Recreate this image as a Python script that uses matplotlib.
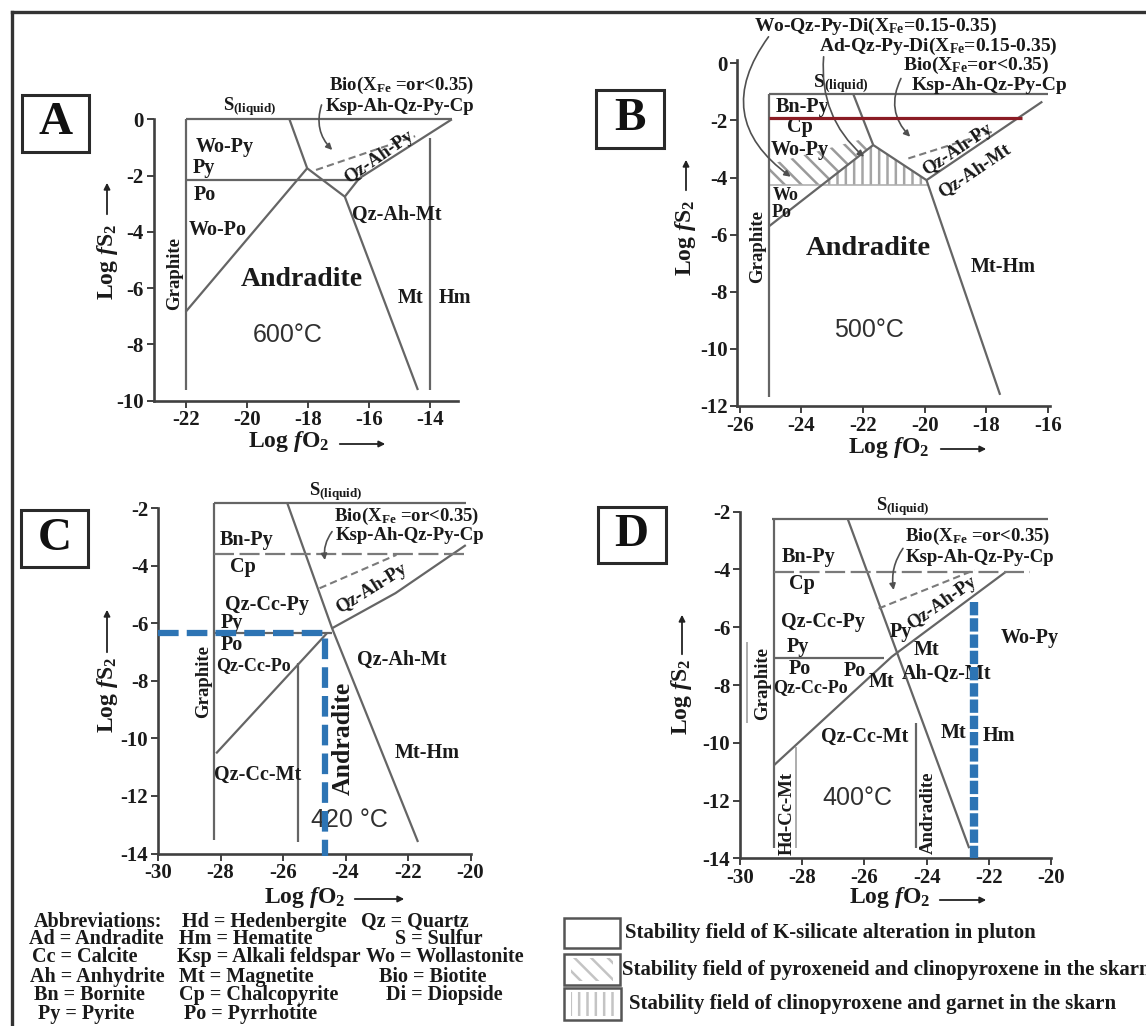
"""fS2 - fO2 stability diagrams of the skarn at 600, 500, 420 and 400 C."""

import matplotlib

matplotlib.use("Agg")
import matplotlib.pyplot as plt
from matplotlib.lines import Line2D
from matplotlib.patches import FancyArrowPatch, Polygon, Rectangle

W, H = 1146, 1026

# ---------------- panel A : 600 C ----------------
A_XTICKS = [-22, -20, -18, -16, -14]
A_YTICKS = [0, -2, -4, -6, -8, -10]
A_SOLID = [
    ([-22, -13.3], [0, 0]),
    ([-22, -22], [0, -9.62]),
    ([-22, -16.39], [-2.16, -2.16]),
    ([-22, -18.03], [-6.84, -1.74]),
    ([-18.61, -18.03, -16.8, -14.41], [0, -1.74, -2.75, -9.62]),
    ([-16.8, -16.33, -13.3], [-2.75, -2.1, 0]),
    ([-14.0, -14.0], [-0.68, -9.62]),
]
A_DASHED = [([-17.74, -14.5], [-1.8, -0.6])]
A_LABELS = [("Wo-Py", -20.71, -0.97), ("Py", -21.42, -1.74), ("Po", -21.36, -2.69),
            ("Wo-Po", -20.95, -3.93), ("Qz-Ah-Mt", -15.1, -3.4), ("Mt", -14.64, -6.36),
            ("Hm", -13.2, -6.36)]
A_NOTES = [("S$_{\\rm (liquid)}$", -19.9, 0.45), ("Bio(X$_{\\rm Fe}$ =or<0.35)", -14.93, 1.22),
           ("Ksp-Ah-Qz-Py-Cp", -14.99, 0.45)]
A_ROTATED = [("Graphite", -22.35, -5.47, 90), ("Qz-Ah-Py", -15.69, -1.33, 35)]
A_BIG = [("Andradite", -18.2, -5.71, 0)]
A_TEMP = [("600°C", -18.67, -7.67)]
A_ARROWS = [((-17.56, 0.51), (-17.21, -1.09), 0.3)]

# ---------------- panel B : 500 C ----------------
B_XTICKS = [-26, -24, -22, -20, -18, -16]
B_YTICKS = [0, -2, -4, -6, -8, -10, -12]
B_SOLID = [
    ([-25.07, -16.0], [-1.07, -1.07]),
    ([-25.07, -25.07], [-1.07, -11.67]),
    ([-25.07, -21.67], [-5.72, -2.86]),
    ([-22.32, -21.67, -19.94, -17.55], [-1.07, -2.86, -4.09, -11.61]),
    ([-19.94, -16.18], [-4.09, -1.34]),
]
B_RED = ([-25.07, -16.84], [-1.93, -1.93])
B_DASHED = [([-20.53, -17.79], [-3.33, -2.39])]
B_FAINT = [([-25.07, -19.89], [-4.26, -4.26])]
B_DIAG_FIELD = [(-25.07, -4.26), (-23.33, -4.26), (-21.67, -2.86), (-21.85, -2.6), (-25.07, -3.55)]
B_VERT_FIELD = [(-23.33, -4.26), (-21.67, -2.86), (-19.94, -4.09), (-19.89, -4.26)]
B_LABELS = [("Bn-Py", -23.97, -1.54), ("Cp", -24.05, -2.22), ("Wo-Py", -24.05, -3.03),
            ("Mt-Hm", -17.46, -7.12)]
B_SMALL = [("Wo", -24.5, -4.62), ("Po", -24.65, -5.22)]
B_NOTES = [("Wo-Qz-Py-Di(X$_{\\rm Fe}$=0.15-0.35)", -21.61, 1.28),
           ("Ad-Qz-Py-Di(X$_{\\rm Fe}$=0.15-0.35)", -19.56, 0.58),
           ("Bio(X$_{\\rm Fe}$=or<0.35)", -18.33, -0.06),
           ("S$_{\\rm (liquid)}$", -22.72, -0.7), ("Ksp-Ah-Qz-Py-Cp", -17.89, -0.76)]
B_ROTATED = [("Graphite", -25.43, -6.42, 90), ("Qz-Ah-Py", -18.92, -3.03, 34),
             ("Qz-Ah-Mt", -18.39, -3.74, 34)]
B_BIG = [("Andradite", -21.82, -6.48, 0)]
B_TEMP = [("500°C", -21.82, -9.34)]
B_ARROWS = [((-25.07, 0.93), (-24.35, -3.97), 0.5),
            ((-23.28, 0.23), (-21.97, -3.27), 0.25),
            ((-20.77, -0.53), (-20.47, -2.57), 0.35)]

# ---------------- panel C : 420 C ----------------
C_XTICKS = [-30, -28, -26, -24, -22, -20]
C_YTICKS = [-2, -4, -6, -8, -10, -12, -14]
C_SOLID = [
    ([-28.2, -20.15], [-1.83, -1.83]),
    ([-28.2, -28.2], [-1.83, -13.54]),
    ([-25.86, -24.43, -21.68], [-1.83, -6.17, -13.6]),
    ([-24.43, -22.4, -20.15], [-6.17, -4.95, -3.28]),
    ([-28.2, -24.43], [-6.35, -6.35]),
    ([-28.14, -24.6], [-10.52, -6.35]),
    ([-25.51, -25.51], [-7.39, -13.6]),
]
C_LONGDASH = [([-28.2, -20.15], [-3.6, -3.6])]
C_DASHED = [([-24.83, -22.37], [-4.78, -3.62])]
C_BLUE = ([-30, -24.66, -24.66], [-6.35, -6.35, -14.1])
C_LABELS = [("Bn-Py", -27.17, -3.1), ("Cp", -27.29, -4.03), ("Qz-Cc-Py", -26.51, -5.36),
            ("Py", -27.63, -6.0), ("Po", -27.63, -6.75), ("Qz-Ah-Mt", -22.2, -7.28),
            ("Mt-Hm", -21.4, -10.52), ("Qz-Cc-Mt", -26.81, -11.28)]
C_SMALL = [("Qz-Cc-Po", -26.94, -7.45)]
C_NOTES = [("S$_{\\rm (liquid)}$", -24.32, -1.42), ("Bio(X$_{\\rm Fe}$ =or<0.35)", -22.04, -2.29),
           ("Ksp-Ah-Qz-Py-Cp", -21.93, -2.93)]
C_ROTATED = [("Graphite", -28.54, -8.03, 90), ("Qz-Ah-Py", -23.17, -4.78, 32)]
C_BIG = [("Andradite", -24.08, -10.0, 90)]
C_TEMP = [("420 °C", -23.86, -12.84)]
C_ARROWS = [((-24.43, -2.81), (-24.66, -3.8), 0.2)]

# ---------------- panel D : 400 C ----------------
D_XTICKS = [-30, -28, -26, -24, -22, -20]
D_YTICKS = [-2, -4, -6, -8, -10, -12, -14]
D_SOLID = [
    ([-28.96, -20.1], [-2.27, -2.27]),
    ([-28.9, -28.9], [-2.27, -13.65]),
    ([-26.53, -22.63], [-2.27, -13.65]),
    ([-28.9, -25.12, -21.45], [-10.77, -7.02, -4.08]),
    ([-28.9, -25.36], [-7.08, -7.08]),
    ([-24.35, -24.35], [-9.33, -13.65]),
]
D_LONGDASH = [([-28.9, -20.68], [-4.08, -4.08])]
D_DASHED = [([-25.54, -22.46], [-5.35, -4.02])]
D_FAINT = [([-29.79, -29.79], [-6.5, -9.33]), ([-28.2, -28.2], [-10.13, -13.65])]
D_BLUE = ([-22.46, -22.46], [-5.12, -14.0])
D_LABELS = [("Bn-Py", -27.78, -3.58), ("Cp", -28.01, -4.5), ("Qz-Cc-Py", -27.33, -5.81),
            ("Py", -28.14, -6.7), ("Po", -28.08, -7.46), ("Po", -26.3, -7.5),
            ("Mt", -25.44, -7.88), ("Py", -24.83, -6.15), ("Mt", -24.0, -6.79),
            ("Ah-Qz-Mt", -23.35, -7.6), ("Wo-Py", -20.68, -6.38), ("Qz-Cc-Mt", -26.0, -9.79),
            ("Mt", -23.12, -9.67), ("Hm", -21.69, -9.77)]
D_SMALL = [("Qz-Cc-Po", -27.72, -8.09)]
D_NOTES = [("S$_{\\rm (liquid)}$", -24.76, -1.83), ("Bio(X$_{\\rm Fe}$ =or<0.35)", -22.35, -2.87),
           ("Ksp-Ah-Qz-Py-Cp", -22.28, -3.58)]
D_ROTATED = [("Graphite", -29.26, -7.94, 90), ("Qz-Ah-Py", -23.52, -5.17, 35),
             ("Hd-Cc-Mt", -28.49, -12.44, 90), ("Andradite", -23.93, -12.44, 90)]
D_TEMP = [("400°C", -26.24, -11.92)]
D_ARROWS = [((-24.76, -3.27), (-25.06, -4.71), 0.2)]

# ---------------- key ----------------
ABBR_COL1 = ["Abbreviations:", "Ad = Andradite", "Cc = Calcite", "Ah = Anhydrite",
             "Bn = Bornite", "Py = Pyrite"]
ABBR_COL2 = ["Hd = Hedenbergite", "Hm = Hematite", "Ksp = Alkali feldspar",
             "Mt = Magnetite", "Cp = Chalcopyrite", "Po = Pyrrhotite"]
ABBR_COL3 = ["Qz = Quartz", "S = Sulfur", "Wo = Wollastonite", "Bio = Biotite",
             "Di = Diopside"]
FIELD_KEYS = ["Stability field of K-silicate alteration in pluton",
              "Stability field of pyroxeneid and clinopyroxene in the skarn",
              "Stability field of clinopyroxene and garnet in the skarn"]

TXT = "#1a1a1a"
LINE = "#656565"
AXIS = "#404040"
BLUE = "#2d74b4"

plt.rcParams["font.family"] = ["Liberation Serif", "DejaVu Serif"]
plt.rcParams["font.weight"] = "bold"
plt.rcParams["axes.unicode_minus"] = False
plt.rcParams["mathtext.fontset"] = "custom"
plt.rcParams["mathtext.rm"] = "Liberation Serif:bold"
plt.rcParams["mathtext.bf"] = "Liberation Serif:bold"
plt.rcParams["mathtext.it"] = "Liberation Serif:italic:bold"
plt.rcParams["hatch.linewidth"] = 1.8


def fig_xy(x, y):
    return x / W, 1 - y / H


def make_axes(fig, box, xlim, ylim, xticks, yticks, ybounds=None):
    left, top, right, bottom = box
    ax = fig.add_axes([left / W, 1 - bottom / H, (right - left) / W, (bottom - top) / H])
    ax.set_xlim(*xlim)
    ax.set_ylim(*ylim)
    ax.patch.set_visible(False)
    for side in ("top", "right"):
        ax.spines[side].set_visible(False)
    for side in ("left", "bottom"):
        ax.spines[side].set_color(AXIS)
        ax.spines[side].set_linewidth(1.9)
    if ybounds:
        ax.spines["left"].set_bounds(*ybounds)
    ax.set_xticks(xticks)
    ax.set_yticks(yticks)
    ax.tick_params(direction="out", length=5, width=1.4, colors=AXIS,
                   labelcolor=TXT, labelsize=15, pad=2)
    return ax


def draw_lines(ax, segs, **kw):
    style = dict(color=LINE, lw=1.6, clip_on=False, solid_capstyle="butt")
    style.update(kw)
    for xs, ys in segs:
        ax.plot(xs, ys, **style)


def put_text(ax, items, size, **kw):
    for t, x, y in items:
        ax.text(x, y, t, ha="center", va="center", fontsize=size, color=TXT, **kw)


def put_rotated(ax, items, size, **kw):
    for t, x, y, rot in items:
        ax.text(x, y, t, ha="center", va="center", fontsize=size, color=TXT,
                rotation=rot, rotation_mode="anchor", **kw)


def curved_arrows(ax, items):
    for start, end, rad in items:
        ax.annotate("", xy=end, xytext=start, annotation_clip=False,
                    arrowprops=dict(arrowstyle="-|>", color="#505050", lw=1.2,
                                    mutation_scale=9, shrinkA=0, shrinkB=0,
                                    connectionstyle=f"arc3,rad={rad}"))


def temp_text(ax, items):
    for t, x, y in items:
        ax.text(x, y, t, ha="center", va="center", fontsize=18, color="#303030",
                family=["Liberation Sans", "DejaVu Sans"], fontweight="normal")


def dashed(ax, segs):
    draw_lines(ax, segs, color="#7a7a7a", lw=1.5, linestyle=(0, (3.5, 2.0)))


def long_dashed(ax, segs):
    draw_lines(ax, segs, color="#7a7a7a", lw=1.6, linestyle=(0, (9, 2.5)))


def panel_letter(fig, letter, left, top, right, bottom):
    x0, y0 = fig_xy(left, bottom)
    x1, y1 = fig_xy(right, top)
    fig.add_artist(Rectangle((x0, y0), x1 - x0, y1 - y0, transform=fig.transFigure,
                             fill=False, edgecolor="#2a2a2a", lw=2.2))
    fig.text((x0 + x1) / 2, (y0 + y1) / 2, letter, ha="center", va="center",
             fontsize=34, color="#111111")


def axis_titles(fig, ylab_xy, yarrow, xlab_xy, xarrow):
    fig.text(*fig_xy(*ylab_xy), "Log $f$S$_2$", rotation=90, ha="center", va="center",
             fontsize=17, color=TXT)
    fig.text(*fig_xy(*xlab_xy), "Log $f$O$_2$", ha="center", va="center",
             fontsize=17, color=TXT)
    for (xa, ya), (xb, yb) in (yarrow, xarrow):
        fig.add_artist(FancyArrowPatch(fig_xy(xa, ya), fig_xy(xb, yb),
                                       transform=fig.transFigure, arrowstyle="-|>",
                                       mutation_scale=9, lw=1.3, color="#222222"))


fig = plt.figure(figsize=(W / 100, H / 100), dpi=100)

# outer frame
fig.add_artist(Line2D([11.5 / W, 11.5 / W], [0, 1 - 12 / H], transform=fig.transFigure,
                      color="#333333", lw=2.4))
fig.add_artist(Line2D([11.5 / W, 1], [1 - 12 / H, 1 - 12 / H], transform=fig.transFigure,
                      color="#333333", lw=2.4))

# A
ax = make_axes(fig, (153.6, 119.3, 458.0, 400.7), (-23.05, -13.1), (-10, 0), A_XTICKS, A_YTICKS)
draw_lines(ax, A_SOLID)
dashed(ax, A_DASHED)
put_text(ax, A_LABELS, 14.5)
put_text(ax, A_NOTES, 13.5)
put_rotated(ax, A_ROTATED, 13.5)
put_rotated(ax, A_BIG, 20)
temp_text(ax, A_TEMP)
curved_arrows(ax, A_ARROWS)
panel_letter(fig, "A", 22, 95, 88.6, 151.7)
axis_titles(fig, (107, 262), ((107, 217), (107, 180)), (289, 442), ((337, 444), (388, 444)))

# B
ax = make_axes(fig, (737.4, 60.5, 1049.7, 406.0), (-26.08, -15.94), (-12, 0.1), B_XTICKS, B_YTICKS)
ax.add_patch(Polygon(B_DIAG_FIELD, closed=True, fill=False, hatch="\\\\",
                     edgecolor="#9a9a9a", lw=0, clip_on=False))
ax.add_patch(Polygon(B_VERT_FIELD, closed=True, fill=False, hatch="||",
                     edgecolor="#a5a5a5", lw=0, clip_on=False))
draw_lines(ax, B_FAINT, color="#b0b0b0", lw=1.2)
draw_lines(ax, B_SOLID)
draw_lines(ax, [B_RED], color="#8b1c24", lw=2.3, zorder=4)
dashed(ax, B_DASHED)
put_text(ax, B_LABELS, 14.5)
put_text(ax, B_SMALL, 13)
put_text(ax, B_NOTES, 14)
put_rotated(ax, B_ROTATED, 13.5)
put_rotated(ax, B_BIG, 20.5)
temp_text(ax, B_TEMP)
curved_arrows(ax, B_ARROWS)
panel_letter(fig, "B", 595.7, 90, 663.75, 148)
axis_titles(fig, (686, 238), ((686, 193), (686, 157)), (889, 447), ((938, 449), (989, 449)))

# C
ax = make_axes(fig, (158.0, 505.4, 470.5, 853.5), (-30, -20), (-14, -1.9), C_XTICKS, C_YTICKS,
               ybounds=(-14, -2))
draw_lines(ax, C_SOLID)
long_dashed(ax, C_LONGDASH)
dashed(ax, C_DASHED)
put_text(ax, C_LABELS, 14.5)
put_text(ax, C_SMALL, 13)
put_text(ax, C_NOTES, 13.5)
put_rotated(ax, C_ROTATED, 13.5)
put_rotated(ax, C_BIG, 18.5)
temp_text(ax, C_TEMP)
curved_arrows(ax, C_ARROWS)
ax.plot(*C_BLUE, color=BLUE, lw=4.5, linestyle=(0, (3.3, 1.3)), clip_on=False, zorder=5)
panel_letter(fig, "C", 21.4, 510, 87.5, 567)
axis_titles(fig, (107, 695), ((107, 655), (107, 607)), (305, 897), ((352, 899), (407, 899)))

# D
ax = make_axes(fig, (740.0, 511.7, 1051.0, 858.3), (-30, -20), (-14, -2), D_XTICKS, D_YTICKS)
draw_lines(ax, D_SOLID)
draw_lines(ax, D_FAINT, color="#a0a0a0", lw=1.2)
long_dashed(ax, D_LONGDASH)
dashed(ax, D_DASHED)
put_text(ax, D_LABELS, 14.5)
put_text(ax, D_SMALL, 13)
put_text(ax, D_NOTES, 13.5)
put_rotated(ax, D_ROTATED, 13.5)
temp_text(ax, D_TEMP)
curved_arrows(ax, D_ARROWS)
ax.plot(*D_BLUE, color=BLUE, lw=6, linestyle=(0, (1.6, 0.35)), clip_on=False, zorder=5)
panel_letter(fig, "D", 597.6, 506.7, 665.6, 563)
axis_titles(fig, (682, 697), ((682, 657), (682, 612)), (890, 898), ((937, 900), (989, 900)))

# abbreviations
rows_y = [921.7, 939.3, 957.3, 976.7, 995, 1014.3]
col1_x = [34, 28.6, 32, 30, 34, 37.5]
col2_x = [182, 178.6, 177, 178.6, 178.6, 184]
col3_x = [361, 394.6, 366, 378.6, 385.7]
for names, xs in ((ABBR_COL1, col1_x), (ABBR_COL2, col2_x), (ABBR_COL3, col3_x)):
    for name, x, y in zip(names, xs, rows_y):
        fig.text(*fig_xy(x, y), name, ha="left", va="center", fontsize=14.5, color=TXT)

# field key
key_boxes = [(563.7, 918, 619.7, 948), (563.7, 954, 619.7, 985), (563.7, 988, 621, 1020)]
key_text_x = [625, 621.6, 629]
key_hatch = [None, "\\\\", "||"]
for label, (l, t, r, b), tx, hatch in zip(FIELD_KEYS, key_boxes, key_text_x, key_hatch):
    x0, y0 = fig_xy(l, b)
    x1, y1 = fig_xy(r, t)
    fig.add_artist(Rectangle((x0, y0), x1 - x0, y1 - y0, transform=fig.transFigure,
                             fill=False, edgecolor="#555555", lw=1.8))
    if hatch:
        fig.add_artist(Rectangle((x0 + 0.006, y0 + 0.004), x1 - x0 - 0.012, y1 - y0 - 0.008,
                                 transform=fig.transFigure, fill=False, hatch=hatch,
                                 edgecolor="#c4c4c4", lw=0))
    fig.text(*fig_xy(tx, (t + b) / 2), label, ha="left", va="center", fontsize=15, color=TXT)

fig.savefig("out.png", dpi=100)
